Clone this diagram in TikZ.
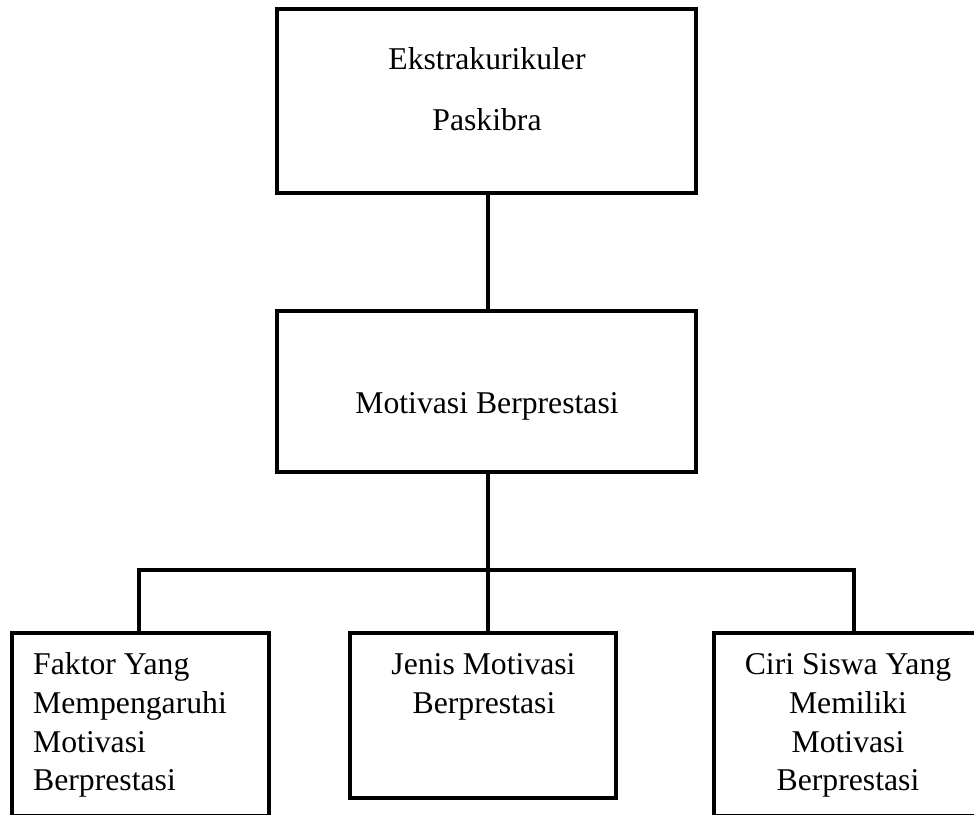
\documentclass[tikz,border=0pt]{standalone}
\usepackage{fontspec}
\setmainfont{Liberation Serif}
\begin{document}
\begin{tikzpicture}[x=1pt,y=-1pt,
  boxline/.style={draw=black,line width=3.8pt,line join=miter},
  conn/.style={draw=black,line width=3.8pt,line cap=rect},
  txt/.style={inner sep=0pt,anchor=base,font=\fontsize{31.7}{38.7}\selectfont},
  txtl/.style={inner sep=0pt,anchor=base west,font=\fontsize{31.7}{38.7}\selectfont}]
\useasboundingbox (0,0) rectangle (974,814);
\clip (0,0) rectangle (974,814);
% boxes
\node[boxline,rectangle,minimum width=419pt,minimum height=184pt,inner sep=0pt] (top) at (486.5,101) {};
\node[boxline,rectangle,minimum width=419pt,minimum height=161pt,inner sep=0pt] (mid) at (486.5,391.5) {};
\node[boxline,rectangle,minimum width=257pt,minimum height=183pt,inner sep=0pt] (bl) at (140.5,724.5) {};
\node[boxline,rectangle,minimum width=266pt,minimum height=165pt,inner sep=0pt] (bm) at (483,715.5) {};
\node[boxline,rectangle,minimum width=276pt,minimum height=183pt,inner sep=0pt] (br) at (852,724.5) {};
% texts
\node[txt] (t1) at (487,69) {Ekstrakurikuler};
\node[txt] (t2) at (487,130) {Paskibra};
\node[txt] (m1) at (487,413) {Motivasi Berprestasi};
\node[txtl] (l1) at (33,674) {Faktor Yang};
\node[txtl] (l2) at (33,713) {Mempengaruhi};
\node[txtl] (l3) at (33,752) {Motivasi};
\node[txtl] (l4) at (33,790) {Berprestasi};
\node[txt] (c1) at (483.5,674) {Jenis Motivasi};
\node[txt] (c2) at (484,713) {Berprestasi};
\node[txt] (r1) at (848,674) {Ciri Siswa Yang};
\node[txt] (r2) at (848,713) {Memiliki};
\node[txt] (r3) at (848,752) {Motivasi};
\node[txt] (r4) at (848,790) {Berprestasi};
% connectors
\coordinate (j) at (488,570);
\coordinate (jl) at (139,570);
\coordinate (jr) at (854,570);
\draw[conn] (top.south -| j) -- (mid.north -| j);
\draw[conn] (mid.south -| j) -- (j);
\draw[conn] (jl) -- (jr);
\draw[conn] (jl) -- (bl.north -| jl);
\draw[conn] (jr) -- (br.north -| jr);
\draw[conn] (j) -- (bm.north -| j);
\end{tikzpicture}
\end{document}
